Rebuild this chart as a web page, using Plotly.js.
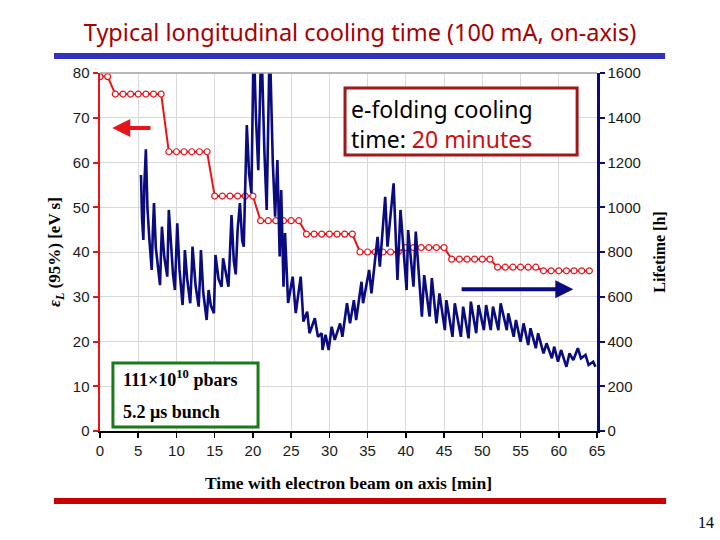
<!DOCTYPE html>
<html><head><meta charset="utf-8">
<script src="https://cdn.plot.ly/plotly-3.0.1.min.js"></script>
<style>html,body{margin:0;padding:0;background:#fff;} #chart{width:720px;height:540px;}</style>
</head><body><div id="chart"></div>
<script>
// Longitudinal emittance (left axis), red steps with open circles
const stepTime = [0,1, 2,3,4,5,6,7,8, 9,10,11,12,13,14, 15,16,17,18,19,20, 21,22,23,24,25,26,
  27,28,29,30,31,32,33, 34,35,36,37,38,39, 40,41,42,43,44,45, 46,47,48,49,50,51,
  52,53,54,55,56,57, 58,59,60,61,62,63,64];
const emittance = [79.2,79.2, 75.3,75.3,75.3,75.3,75.3,75.3,75.3, 62.4,62.4,62.4,62.4,62.4,62.4,
  52.5,52.5,52.5,52.5,52.5,52.5, 47.0,47.0,47.0,47.0,47.0,47.0,
  44.0,44.0,44.0,44.0,44.0,44.0,44.0, 40.0,40.0,40.0,40.0,40.0,40.0,
  41.0,41.0,41.0,41.0,41.0,41.0, 38.4,38.4,38.4,38.4,38.4,38.4,
  36.6,36.6,36.6,36.6,36.6,36.6, 35.8,35.8,35.8,35.8,35.8,35.8,35.8];

// Lifetime (right axis), navy sawtooth
const lifeTimeMin = [5.36,5.5,5.67,5.8,6.0,6.2,6.45,6.76,6.9,7.06,7.3,7.6,7.85,8.0,8.1,8.4,8.8,9.0,9.3,9.55,9.8,
  10.0,10.1,10.4,10.8,11.0,11.1,11.4,11.8,12.0,12.1,12.5,12.9,13.1,13.2,13.5,13.95,14.2,14.5,14.9,
  15.1,15.5,15.9,16.1,16.5,16.8,17.0,17.2,17.5,17.75,18.0,18.3,18.6,18.8,19.0,19.2,19.5,19.8,
  20.1,20.4,20.7,21.1,21.5,21.8,22.2,22.6,22.9,23.2,23.5,23.7,24.0,24.2,24.6,25.2,25.6,26.25,26.6,
  27.1,27.4,28.1,28.5,29.0,29.1,29.5,29.9,30.3,30.7,31.4,31.7,32.3,32.7,33.2,33.5,34.2,34.4,
  35.2,35.5,36.3,36.6,37.3,37.6,38.4,38.9,39.3,40.1,40.3,41.0,41.3,42.1,42.4,43.1,43.4,44.0,44.4,
  45.1,45.3,46.1,46.4,47.2,47.5,48.2,48.5,49.2,49.5,50.2,50.5,51.1,51.4,52.1,52.4,53.2,53.4,
  54.1,54.4,55.0,55.4,56.0,56.3,57.0,57.3,58.0,58.4,59.1,59.4,59.9,60.3,61.0,61.4,61.9,62.5,
  62.9,63.5,63.9,64.5,64.8];
const lifetimeHours = [1144,950,854,1100,1259,1000,860,720,880,1019,820,740,652,820,913,780,690,988,800,700,630,
  800,928,720,563,700,809,680,571,720,824,650,556,700,809,620,496,630,560,526,
  787,680,645,772,700,645,800,965,760,700,900,1019,850,824,1100,1367,1150,1063,
  1750,1400,1166,1750,1250,988,1750,1200,958,1211,780,1077,645,885,572,690,527,690,489,
  533,437,504,421,437,362,430,362,466,407,481,421,571,481,585,496,667,571,
  720,615,868,734,1047,824,1107,675,988,630,898,645,891,511,697,511,683,481,615,
  451,585,421,571,421,556,414,578,437,563,451,563,451,556,451,571,451,526,
  421,496,399,481,384,459,370,437,347,392,325,377,310,362,287,347,317,370,
  325,340,295,310,287];

const xTicks = [0,5,10,15,20,25,30,35,40,45,50,55,60,65];
const leftTicks = [0,10,20,30,40,50,60,70,80];
const rightTicks = [0,200,400,600,800,1000,1200,1400,1600];

const serif = 'Liberation Serif, Times New Roman, serif';
const sans = 'Liberation Sans, Arial, sans-serif';
const comic = 'Noto Sans, DejaVu Sans, sans-serif';

const traces = [
  {x: stepTime, y: emittance, type:'scatter', mode:'lines+markers', yaxis:'y',
   line:{color:'#e8141c', width:2},
   marker:{symbol:'circle', size:6, color:'#ffffff', line:{color:'#e8141c', width:1.2}},
   hoverinfo:'skip', showlegend:false},
  {x: lifeTimeMin, y: lifetimeHours, type:'scatter', mode:'lines', yaxis:'y2',
   line:{color:'#0b0b80', width:2.6},
   hoverinfo:'skip', showlegend:false}
];

const layout = {
  width:720, height:540,
  margin:{l:100, r:123, t:73, b:109},
  paper_bgcolor:'#ffffff', plot_bgcolor:'#ffffff',
  showlegend:false,
  title:{text:'Typical longitudinal cooling time (100 mA, on-axis)',
    font:{family:comic, size:23.5, color:'#a80000'}, x:0.5, xref:'container', y:0.94, yref:'container', xanchor:'center', yanchor:'middle'},
  xaxis:{range:[0,65], tickvals:xTicks, ticktext:xTicks.map(String),
    showgrid:true, gridcolor:'#d9d9d9', gridwidth:1, zeroline:false,
    showline:true, linecolor:'#000000', linewidth:2,
    ticks:'outside', ticklen:5, tickwidth:1.5, tickcolor:'#000000',
    tickfont:{family:sans, size:15, color:'#1a1a1a'},
    title:{text:'<b>Time with electron beam on axis [min]</b>', font:{family:serif, size:17.5, color:'#000'}, standoff:19}},
  yaxis:{range:[0,80], tickvals:leftTicks, ticktext:leftTicks.map(String),
    showgrid:true, gridcolor:'#d9d9d9', gridwidth:1, zeroline:false,
    showline:true, linecolor:'#e8141c', linewidth:2.5,
    ticks:'outside', ticklen:5, tickwidth:2, tickcolor:'#e8141c',
    tickfont:{family:sans, size:15, color:'#1a1a1a'},
    title:{text:'<b><i>ε</i><sub><i>L</i></sub> (95%) [eV s]</b>', font:{family:serif, size:17, color:'#000'}, standoff:8}},
  yaxis2:{range:[0,1600], tickvals:rightTicks, ticktext:rightTicks.map(String),
    overlaying:'y', side:'right', showgrid:false, zeroline:false,
    showline:true, linecolor:'#0b0b80', linewidth:2.5,
    ticks:'outside', ticklen:5, tickwidth:2, tickcolor:'#0b0b80',
    tickfont:{family:sans, size:15, color:'#1a1a1a'},
    title:{text:'<b>Lifetime [h]</b>', font:{family:serif, size:16, color:'#000'}, standoff:14}},
  shapes:[
    {type:'line', xref:'paper', yref:'paper', x0:0, x1:1, y0:1, y1:1, line:{color:'#a0a0a0', width:1.5}},
    {type:'rect', xref:'paper', yref:'paper', x0:-0.0926, x1:1.137, y0:1.0391, y1:1.0559, fillcolor:'#3232be', line:{width:0}},
    {type:'rect', xref:'paper', yref:'paper', x0:-0.0926, x1:1.139, y0:-0.204, y1:-0.187, fillcolor:'#c80000', line:{width:0}},
    {type:'rect', xref:'paper', yref:'paper', x0:0.493, x1:0.960, y0:0.771, y1:0.958, fillcolor:'#ffffff', line:{color:'#a01818', width:3}},
    {type:'rect', xref:'paper', yref:'paper', x0:0.026, x1:0.318, y0:0.011, y1:0.190, fillcolor:'#ffffff', line:{color:'#1a7a1a', width:3}}
  ],
  annotations:[
    {xref:'paper', yref:'paper', x:0.500, y:0.950, xanchor:'left', yanchor:'top', align:'left', showarrow:false,
     text:'e-folding cooling<br>time: <span style="color:#c81010">20 minutes</span>',
     font:{family:comic, size:23, color:'#000'}},
    {xref:'paper', yref:'paper', x:0.042, y:0.147, xanchor:'left', yanchor:'middle', showarrow:false,
     text:'<b>111×10<sup>10</sup> pbars</b>', font:{family:serif, size:18, color:'#000'}},
    {xref:'paper', yref:'paper', x:0.042, y:0.053, xanchor:'left', yanchor:'middle', showarrow:false,
     text:'<b>5.2 μs bunch</b>', font:{family:serif, size:18, color:'#000'}},
    {xref:'x', yref:'y', x:1.6, y:67.7, axref:'x', ayref:'y', ax:6.8, ay:67.7, text:'', showarrow:true,
     arrowhead:2, arrowsize:0.9, arrowwidth:4, arrowcolor:'#e8141c'},
    {xref:'x', yref:'y', x:61.9, y:31.7, axref:'x', ayref:'y', ax:47.1, ay:31.7, text:'', showarrow:true,
     arrowhead:2, arrowsize:0.9, arrowwidth:4, arrowcolor:'#0b0b80'},
    {xref:'paper', yref:'paper', x:1.22, y:-0.255, xanchor:'center', yanchor:'middle', showarrow:false,
     text:'14', font:{family:serif, size:16, color:'#000'}}
  ]
};

Plotly.newPlot('chart', traces, layout, {staticPlot:true, displayModeBar:false});
</script>
</body></html>
